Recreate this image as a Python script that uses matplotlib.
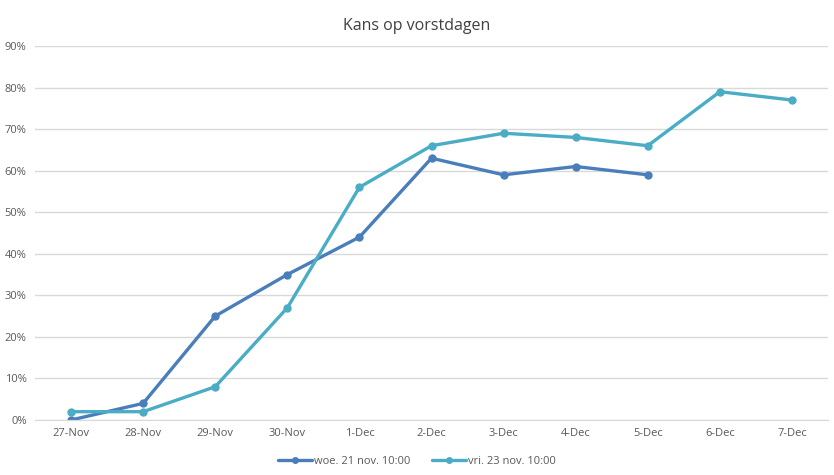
import numpy as np
import matplotlib
matplotlib.use('Agg')
import matplotlib.pyplot as plt
from matplotlib.ticker import PercentFormatter

plt.rcParams['font.family'] = ['Open Sans', 'DejaVu Sans']

dates = ['27-Nov', '28-Nov', '29-Nov', '30-Nov', '1-Dec', '2-Dec',
         '3-Dec', '4-Dec', '5-Dec', '6-Dec', '7-Dec']
woe = [0, 4, 25, 35, 44, 63, 59, 61, 59]
vri = [2, 2, 8, 27, 56, 66, 69, 68, 66, 79, 77]

fig = plt.figure(figsize=(8.34, 4.75), dpi=100)
ax = fig.add_axes([35/834, 1 - 420/475, (828 - 35)/834, (420 - 46)/475])

x = np.arange(len(dates))
ax.plot(x[:len(woe)], woe, color='#4A7EBB', lw=2.4, marker='o', ms=5,
        label='woe. 21 nov. 10:00', solid_capstyle='round')
ax.plot(x[:len(vri)], vri, color='#4BACC6', lw=2.4, marker='o', ms=5,
        label='vri. 23 nov. 10:00', solid_capstyle='round')

ax.set_xlim(-0.5, len(dates) - 0.5)
ax.set_ylim(0, 90)
ax.set_yticks(np.arange(0, 91, 10))
ax.yaxis.set_major_formatter(PercentFormatter(decimals=0))
ax.set_xticks(x)
ax.set_xticklabels(dates)
ax.grid(axis='y', color='#D9D9D9', lw=1)
ax.set_axisbelow(True)
for s in ['top', 'right', 'left']:
    ax.spines[s].set_visible(False)
ax.spines['bottom'].set_color('#D9D9D9')
ax.tick_params(length=0, labelsize=8, colors='#595959', pad=6)

fig.text(0.5, 1 - 26/475, 'Kans op vorstdagen', ha='center', va='center',
         fontsize=11.5, color='#404040')
fig.legend(loc='center', bbox_to_anchor=(0.5, 1 - 461/475), ncol=2, frameon=False,
           fontsize=8, labelcolor='#595959', handlelength=3, columnspacing=2,
           handletextpad=0.2, markerscale=0.8)

fig.savefig('out.png', dpi=100)
